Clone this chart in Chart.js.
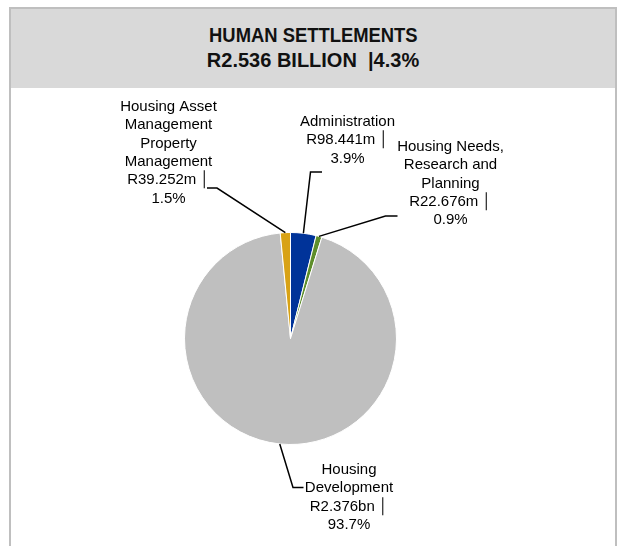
<!DOCTYPE html>
<html>
<head>
<meta charset="utf-8">
<script src="https://cdn.jsdelivr.net/npm/chart.js@4.4.1/dist/chart.umd.min.js"></script>
<style>
	html, body {
		margin: 0;
		padding: 0;
		background: #ffffff;
	}
	body {
		width: 617px;
		height: 546px;
		position: relative;
		overflow: hidden;
		font-family: 'Liberation Sans', Arial, sans-serif;
	}
	.frame {
		position: absolute;
		left: 9px;
		top: 7px;
		width: 604px;
		height: 560px;
		border: 2px solid #bfbfbf;
		border-bottom: none;
	}
	.title-bar {
		position: absolute;
		left: 0;
		top: 0;
		width: 604px;
		height: 79px;
		background: #d9d9d9;
	}
	.title-bar .line {
		position: absolute;
		left: 0;
		width: 604px;
		text-align: center;
		font-weight: bold;
		font-size: 20px;
		line-height: 24.5px;
		color: #111111;
		white-space: pre;
	}
	.title-bar .line span {
		display: inline-block;
	}
	#chart-wrap {
		position: absolute;
		left: 0;
		top: 0;
		width: 617px;
		height: 546px;
	}
</style>
</head>
<body>
<div class="frame">
	<div class="title-bar">
		<div class="line" style="top: 14px;"><span style="transform: scaleX(0.92);">HUMAN SETTLEMENTS</span></div>
		<div class="line" style="top: 38.5px;"><span style="transform: scaleX(1.0);">R2.536 BILLION  |4.3%</span></div>
	</div>
</div>
<div id="chart-wrap"><canvas id="pieChart"></canvas></div>
<script>
	// programme budget split, R million, clockwise from 12 o'clock
	const categories = ['Administration', 'Housing Needs, Research and Planning', 'Housing Development', 'Housing Asset Management Property Management'];
	const amounts = [98.441, 22.676, 2376, 39.252];
	const amountLabels = ['R98.441m', 'R22.676m', 'R2.376bn', 'R39.252m'];
	const shareLabels = ['3.9%', '0.9%', '93.7%', '1.5%'];
	const nameLines = [
		['Administration'],
		['Housing Needs,', 'Research and', 'Planning'],
		['Housing', 'Development'],
		['Housing Asset', 'Management', 'Property', 'Management']
	];
	const sliceColors = ['#003399', '#5e8e2b', '#bfbfbf', '#d8a215'];

	// callout placement relative to the pie centre (text centre x, first line y, leader elbow, leader end)
	const calloutLayout = [
		{ dx: 57, dy: -216.5, elbow: [20, -166.5], end: [31.5, -166.5] },
		{ dx: 160, dy: -191.5, elbow: [95, -122.5], end: [107, -122.5] },
		{ dx: 58.5, dy: 131.5, elbow: [2.5, 149], end: [13, 149] },
		{ dx: -122, dy: -231.5, elbow: [-73.5, -150.5], end: [-83.5, -150.5] }
	];
	const lineGap = 18.3;

	const calloutPlugin = {
		id: 'callouts',
		afterDatasetsDraw(chart) {
			const ctx = chart.ctx;
			const meta = chart.getDatasetMeta(0);

			ctx.save();
			ctx.strokeStyle = '#000000';
			ctx.lineWidth = 1.5;
			ctx.fillStyle = '#000000';
			ctx.font = '15px "Liberation Sans", Arial, "DejaVu Sans", sans-serif';
			ctx.textAlign = 'center';
			ctx.textBaseline = 'middle';

			meta.data.forEach((arc, i) => {
				const p = arc.getProps(['x', 'y', 'startAngle', 'endAngle', 'outerRadius'], true);
				const mid = (p.startAngle + p.endAngle) / 2;
				const layout = calloutLayout[i];
				const sx = p.x + Math.cos(mid) * p.outerRadius;
				const sy = p.y + Math.sin(mid) * p.outerRadius;

				ctx.beginPath();
				ctx.moveTo(sx, sy);
				ctx.lineTo(p.x + layout.elbow[0], p.y + layout.elbow[1]);
				ctx.lineTo(p.x + layout.end[0], p.y + layout.end[1]);
				ctx.stroke();

				const lines = nameLines[i].concat([amountLabels[i] + ' \u2502', shareLabels[i]]);
				lines.forEach((text, k) => {
					ctx.fillText(text, p.x + layout.dx, p.y + layout.dy + k * lineGap);
				});
			});

			ctx.restore();
		}
	};

	new Chart(document.getElementById('pieChart'), {
		type: 'pie',
		data: {
			labels: categories,
			datasets: [{
				data: amounts,
				backgroundColor: sliceColors,
				borderColor: '#ffffff',
				borderWidth: 1
			}]
		},
		options: {
			responsive: true,
			maintainAspectRatio: false,
			animation: false,
			layout: {
				padding: { left: 184, right: 220, top: 232, bottom: 101 }
			},
			plugins: {
				legend: { display: false },
				tooltip: { enabled: false }
			}
		},
		plugins: [calloutPlugin]
	});
</script>
</body>
</html>
